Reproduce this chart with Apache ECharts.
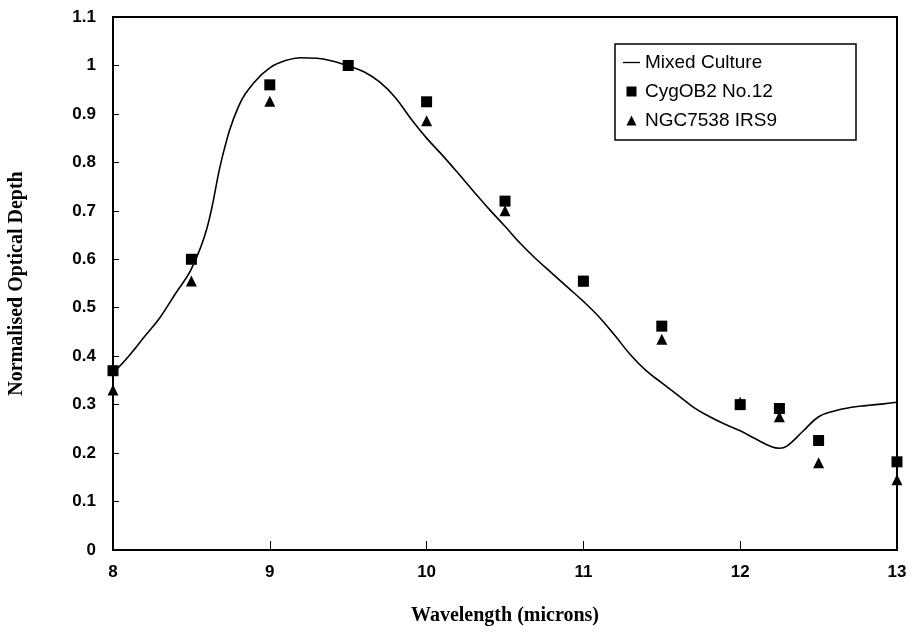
<!DOCTYPE html>
<html>
<head>
<meta charset="utf-8">
<script src="https://cdn.jsdelivr.net/npm/echarts@6/dist/echarts.min.js"></script>
<style>html,body{margin:0;padding:0;background:#fff}#c{width:913px;height:632px}</style>
</head>
<body>
<div id="c"></div>
<script>
var curveX = [8.0,8.1,8.2,8.3,8.4,8.5,8.6,8.7,8.8,8.9,9.0,9.1,9.2,9.3,9.4,9.5,9.6,9.7,9.8,9.9,10.0,10.1,10.2,10.3,10.4,10.5,10.6,10.7,10.8,10.9,11.0,11.1,11.2,11.3,11.4,11.5,11.6,11.7,11.8,11.9,12.0,12.1,12.2,12.25,12.3,12.4,12.5,12.6,12.7,12.8,12.9,13.0];
var curveY = [0.365,0.40,0.44,0.48,0.53,0.58,0.665,0.815,0.915,0.965,0.995,1.010,1.016,1.015,1.009,0.999,0.987,0.966,0.934,0.890,0.850,0.815,0.778,0.740,0.703,0.668,0.632,0.600,0.571,0.542,0.513,0.481,0.443,0.403,0.370,0.345,0.320,0.295,0.276,0.260,0.246,0.229,0.213,0.210,0.215,0.245,0.275,0.287,0.294,0.298,0.301,0.305];
var ptX = [8,8.5,9,9.5,10,10.5,11,11.5,12,12.25,12.5,13];
var cygY = [0.37,0.60,0.96,1.0,0.925,0.72,0.555,0.462,0.30,0.292,0.226,0.182];
var ngcY = [0.33,0.555,0.926,1.0,0.886,0.70,0.555,0.435,0.305,0.275,0.18,0.145];
var names = ['Mixed Culture','CygOB2 No.12','NGC7538 IRS9'];

function zip(a,b){return a.map(function(v,i){return [v,b[i]];});}

var chart = echarts.init(document.getElementById('c'));
chart.setOption({
  animation:false,
  backgroundColor:'#fff',
  grid:{left:113,right:16,top:17,bottom:82,containLabel:false,outerBoundsMode:'none',show:true,borderColor:'#000',borderWidth:2,backgroundColor:'transparent'},
  legend:{
    orient:'vertical',left:615,top:44,padding:[9,79,10,8],itemGap:10,
    borderColor:'#000',borderWidth:1.5,backgroundColor:'#fff',
    itemWidth:17,itemHeight:10,symbolKeepAspect:true,
    textStyle:{fontFamily:'Liberation Sans, Arial, sans-serif',fontSize:19,color:'#000'},
    data:[
      {name:names[0],icon:'path://M0,0L17,0L17,1.3L0,1.3Z'},
      {name:names[1],icon:'path://M0,0L10,0L10,10L0,10Z'},
      {name:names[2],icon:'path://M5,0L10,10L0,10Z'}
    ]
  },
  xAxis:{
    type:'value',min:8,max:13,interval:1,
    name:'Wavelength (microns)',nameLocation:'middle',nameGap:56,
    nameTextStyle:{fontFamily:'Liberation Serif, Times New Roman, serif',fontWeight:'bold',fontSize:20,color:'#000'},
    axisLine:{lineStyle:{color:'#000',width:2}},
    axisTick:{inside:true,length:9,lineStyle:{color:'#000',width:1}},
    axisLabel:{margin:14,fontFamily:'Liberation Sans, Arial, sans-serif',fontWeight:'bold',fontSize:17,color:'#000'},
    splitLine:{show:false}
  },
  yAxis:{
    type:'value',min:0,max:1.1,interval:0.1,
    name:'Normalised Optical Depth',nameLocation:'middle',nameGap:86,
    nameTextStyle:{fontFamily:'Liberation Serif, Times New Roman, serif',fontWeight:'bold',fontSize:20,color:'#000'},
    axisLine:{lineStyle:{color:'#000',width:2}},
    axisTick:{inside:true,length:6,lineStyle:{color:'#000',width:1}},
    axisLabel:{margin:17,fontFamily:'Liberation Sans, Arial, sans-serif',fontWeight:'bold',fontSize:17,color:'#000',
      formatter:function(v){return String(Math.round(v*10)/10);}},
    splitLine:{show:false}
  },
  series:[
    {name:names[0],type:'line',data:zip(curveX,curveY),smooth:0.4,symbol:'none',
      lineStyle:{color:'#000',width:1.6},itemStyle:{color:'#000'},z:2},
    {name:names[1],type:'scatter',data:zip(ptX,cygY),symbol:'rect',symbolSize:11,itemStyle:{color:'#000',opacity:1},z:4},
    {name:names[2],type:'scatter',data:zip(ptX,ngcY),symbol:'triangle',symbolSize:11,itemStyle:{color:'#000',opacity:1},z:3}
  ]
});
</script>
</body>
</html>
